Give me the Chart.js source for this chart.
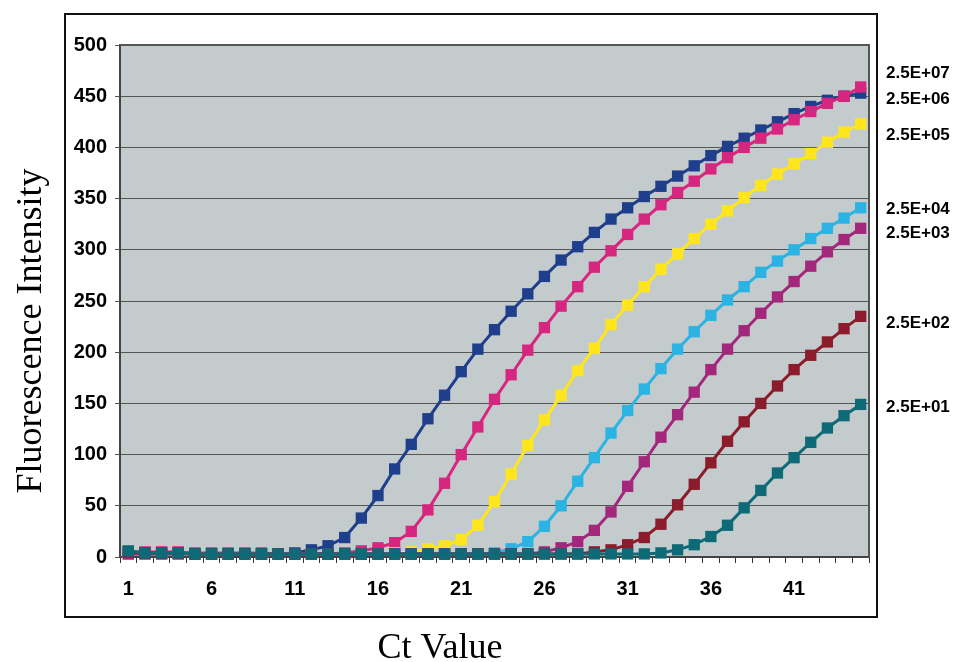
<!DOCTYPE html>
<html>
<head>
<meta charset="utf-8">
<script src="https://cdn.jsdelivr.net/npm/chart.js@4/dist/chart.umd.min.js"></script>
<style>
html,body{margin:0;padding:0;background:#fff;}
#wrap{position:relative;width:954px;height:662px;}
</style>
</head>
<body>
<div id="wrap"><canvas id="c" width="954" height="662"></canvas></div>
<script>
// ---- data ----
const cycles = Array.from({length: 45}, (_, i) => String(i + 1));
const yTicks = [0, 50, 100, 150, 200, 250, 300, 350, 400, 450, 500];
const seriesNames = ['2.5E+07', '2.5E+06', '2.5E+05', '2.5E+04', '2.5E+03', '2.5E+02', '2.5E+01'];

const s_2_5E07 = [5,4,4,4,3,3,3,3,3,3,4,7,11,19,38,60,86,110,135,158,181,203,222,240,257,274,290,303,317,330,341,352,362,372,382,392,401,409,417,425,433,440,446,450,453];
const s_2_5E06 = [5,5,5,5,4,4,4,4,4,3,3,3,3,4,6,9,14,25,46,72,100,127,154,178,202,224,245,264,283,299,315,330,344,356,367,379,390,400,409,418,427,435,443,450,459];
const s_2_5E05 = [3,3,3,3,3,3,3,3,3,3,3,3,3,3,3,3,4,5,8,11,17,31,54,81,109,134,158,182,204,227,246,264,281,296,311,325,338,351,363,374,384,394,405,415,423];
const s_2_5E04 = [3,3,3,3,3,3,3,3,3,3,3,3,3,3,3,3,3,3,3,3,3,3,4,8,15,30,50,74,97,121,143,164,184,203,220,236,251,264,278,289,300,311,321,331,341];
const s_2_5E03 = [3,3,3,3,3,3,3,3,3,3,3,3,3,3,3,3,3,3,3,3,3,3,3,3,3,5,9,15,26,44,69,93,117,139,161,183,203,221,238,254,269,284,298,310,321];
const s_2_5E02 = [5,4,4,4,3,3,3,3,3,3,3,3,3,3,3,3,3,3,3,3,3,3,3,3,3,3,3,3,5,7,12,19,32,51,71,92,113,132,150,167,183,197,210,223,235];
const s_2_5E01 = [6,4,4,4,3,3,3,3,3,3,3,3,3,3,3,3,3,3,3,3,3,3,3,3,3,3,3,3,3,3,3,3,4,7,12,20,31,48,65,82,97,112,126,138,149];

const seriesValues = [s_2_5E07, s_2_5E06, s_2_5E05, s_2_5E04, s_2_5E03, s_2_5E02, s_2_5E01];
const seriesColors = ['#1f3f8c', '#d6267f', '#ffe61c', '#2bb3e3', '#a3287c', '#8c1c2c', '#0f6a78'];
// label anchor values (in data units) for the right-hand series labels
const labelAnchors = [472, 447, 412, 340, 316, 228, 146];

const tickFont = {family: '"Liberation Sans Narrow", "Arial Narrow", "Liberation Sans", Arial, sans-serif', size: 20, weight: 'bold'};

const decor = {
  id: 'decor',
  beforeDraw(chart) {
    const {ctx, chartArea: a} = chart;
    ctx.save();
    ctx.fillStyle = '#fff';
    ctx.fillRect(0, 0, chart.width, chart.height);
    ctx.fillStyle = '#c4cbcd';
    ctx.fillRect(a.left, a.top, a.right - a.left, a.bottom - a.top);
    ctx.restore();
  },
  afterDatasetsDraw(chart) {
    const {ctx, chartArea: a, scales} = chart;
    ctx.save();
    // plot border
    ctx.strokeStyle = '#555';
    ctx.lineWidth = 2;
    ctx.beginPath();
    ctx.moveTo(a.left, a.top); ctx.lineTo(a.right, a.top); ctx.lineTo(a.right, a.bottom);
    ctx.stroke();
    // outer frame
    ctx.strokeStyle = '#111';
    ctx.lineWidth = 2;
    ctx.strokeRect(65, 14, 812, 603);
    // series labels
    ctx.fillStyle = '#000';
    ctx.font = 'bold 17px "Liberation Sans", Arial, sans-serif';
    ctx.textAlign = 'left';
    ctx.textBaseline = 'middle';
    seriesNames.forEach((n, i) => {
      ctx.fillText(n, 886, scales.y.getPixelForValue(labelAnchors[i]));
    });
    // axis titles
    ctx.font = '36px "Liberation Serif", "Times New Roman", serif';
    ctx.textAlign = 'center';
    ctx.textBaseline = 'alphabetic';
    ctx.fillText('Ct Value', 440, 658);
    ctx.translate(41, 331);
    ctx.rotate(-Math.PI / 2);
    ctx.fillText('Fluorescence Intensity', 0, 0);
    ctx.restore();
  }
};

const datasets = seriesNames.map((n, i) => ({
  label: n,
  data: seriesValues[i],
  borderColor: seriesColors[i],
  backgroundColor: seriesColors[i],
  pointBackgroundColor: seriesColors[i],
  pointBorderColor: seriesColors[i],
  pointBorderWidth: 0,
  pointStyle: 'rect',
  pointRadius: 8,
  pointHoverRadius: 8,
  borderWidth: 3,
  tension: 0,
  clip: false,
  order: seriesNames.length - i
}));

new Chart(document.getElementById('c'), {
  type: 'line',
  data: {labels: cycles, datasets},
  plugins: [decor],
  options: {
    responsive: false,
    animation: false,
    devicePixelRatio: 1,
    layout: {padding: {top: 45, right: 85, left: 0, bottom: 0}},
    plugins: {legend: {display: false}, tooltip: {enabled: false}},
    scales: {
      x: {
        type: 'category',
        offset: true,
        afterFit(s) { s.height = 105; },
        grid: {offset: true, drawOnChartArea: false, drawTicks: true, tickLength: 6, color: '#333', lineWidth: 1},
        border: {display: true, color: '#444', width: 2},
        ticks: {
          autoSkip: false, maxRotation: 0, minRotation: 0, padding: 14, color: '#000', font: tickFont,
          callback(v, idx) { return idx % 5 === 0 ? cycles[idx] : ''; }
        }
      },
      y: {
        min: 0, max: 500,
        afterFit(s) { s.width = 120; },
        afterBuildTicks(s) { s.ticks = yTicks.map(v => ({value: v})); },
        grid: {drawOnChartArea: true, drawTicks: true, tickLength: 5, color: '#555', lineWidth: 1},
        border: {display: true, color: '#444', width: 2},
        ticks: {padding: 8, color: '#000', font: tickFont}
      }
    }
  }
});
</script>
</body>
</html>
